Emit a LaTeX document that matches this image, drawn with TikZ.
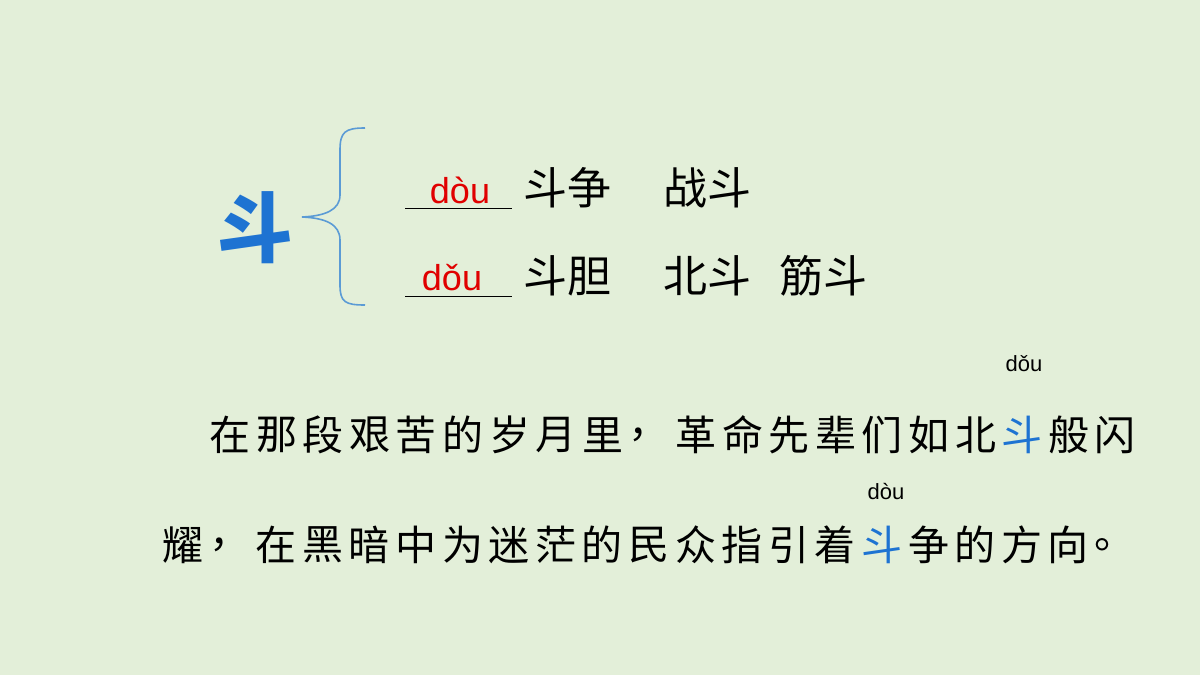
\documentclass[tikz,border=0pt]{standalone}
\usepackage{fontspec}
\newfontfamily\cjk{Noto Sans CJK SC}
\setmainfont{Liberation Sans}
\definecolor{bg}{HTML}{E3EFD9}
\definecolor{myblue}{HTML}{1E73D2}
\definecolor{brk}{HTML}{5B9BD5}
\definecolor{myred}{HTML}{E00000}
\begin{document}
\begin{tikzpicture}[x=1pt,y=-1pt,
  big/.style={font=\cjk\fontsize{44}{44}\selectfont,inner sep=0pt},
  py/.style={font=\fontsize{36}{36}\selectfont,text=myred,inner sep=0pt},
  sm/.style={font=\fontsize{22}{22}\selectfont,inner sep=0pt},
  sent/.style={font=\cjk\fontsize{41}{41}\selectfont,inner sep=0pt}]
\fill[bg] (0,0) rectangle (1200,675);
\useasboundingbox (0,0) rectangle (1200,675);
\node[font=\cjk\bfseries\fontsize{76}{76}\selectfont,text=myblue,inner sep=0pt] (dou) at (255,228) {斗};
\draw[brk,line width=1.6pt] (365,128) .. controls (345,128) and (340,132) .. (340,150) -- (340,195)
  .. controls (340,210) and (325,216) .. (302,217)
  .. controls (325,218) and (340,224) .. (340,240) -- (340,285)
  .. controls (340,302) and (345,305) .. (365,305);
\coordinate (u1a) at (405,208); \coordinate (u1b) at (512,208);
\draw[line width=0.8pt] (u1a) -- (u1b);
\node[py] (p1) at (460,190) {dòu};
\node[big] (w11) at (567,188) {斗争};
\node[big] (w12) at (707,188) {战斗};
\coordinate (u2a) at (405,296); \coordinate (u2b) at (512,296);
\draw[line width=0.8pt] (u2a) -- (u2b);
\node[py] (p2) at (452,278) {dǒu};
\node[big] (w21) at (567,276) {斗胆};
\node[big] (w22) at (707,276) {北斗};
\node[big] (w23) at (823,276) {筋斗};
\node[sm] (s1) at (1024,364) {dǒu};
\node[sm] (s2) at (886,492) {dòu};
\foreach \c [count=\i from 0] in {在,那,段,艰,苦,的,岁,月,里,，,革,命,先,辈,们,如,北,斗,般,闪}
  \node[sent] (a\i) at (230+\i*46.6,435) {\ifnum\i=17\color{myblue}\fi\c};
\foreach \c [count=\i from 0] in {耀,，,在,黑,暗,中,为,迷,茫,的,民,众,指,引,着,斗,争,的,方,向,。}
  \node[sent] (b\i) at (183+\i*46.6,545) {\ifnum\i=15\color{myblue}\fi\c};
\end{tikzpicture}
\end{document}
